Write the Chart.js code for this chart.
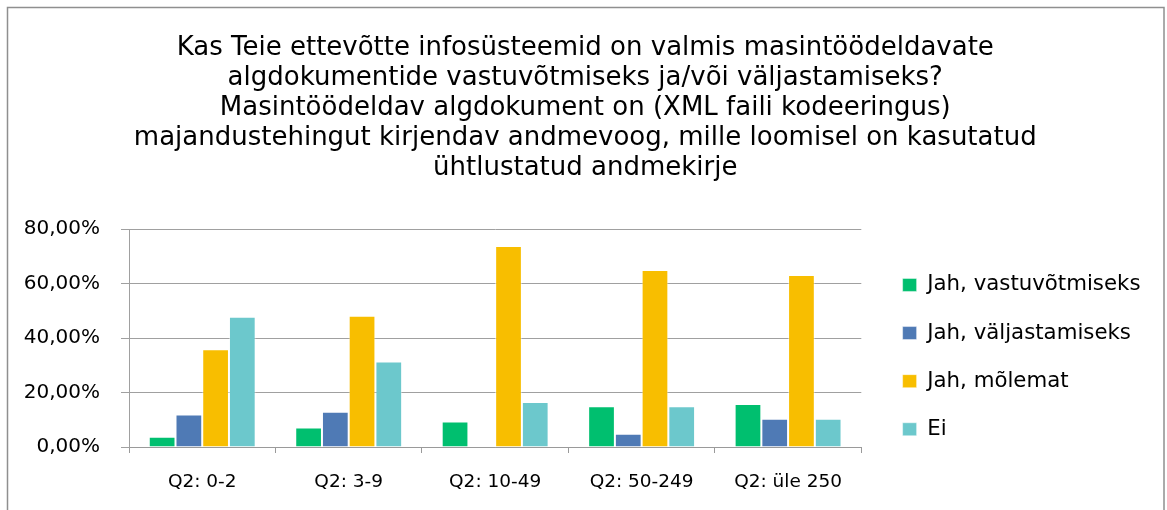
<!DOCTYPE html>
<html lang="et">
<head>
<meta charset="utf-8">
<title>Masintöödeldavad algdokumendid</title>
<script src="https://cdn.jsdelivr.net/npm/chart.js@4.4.1/dist/chart.umd.min.js"></script>
<style>
    html, body { margin: 0; padding: 0; background: #fff; }
    #wrap { width: 1167px; height: 510px; position: relative; }
</style>
</head>
<body>
<div id="wrap"><canvas id="grafik"></canvas></div>
<script>
// Andmed (loetud pildilt, protsentides)
const kategooriad = ['Q2: 0-2', 'Q2: 3-9', 'Q2: 10-49', 'Q2: 50-249', 'Q2: üle 250'];
const vastuvotmiseks = [3.8, 7.2, 9.4, 15.0, 15.8];
const valjastamiseks = [11.9, 12.9, 0, 4.9, 10.4];
const molemat = [35.9, 48.2, 73.8, 65.0, 63.1];
const ei = [47.8, 31.4, 16.5, 15.0, 10.4];
const seeriad = ['Jah, vastuvõtmiseks', 'Jah, väljastamiseks', 'Jah, mõlemat', 'Ei'];
const yTikid = [0, 20, 40, 60, 80];
const pealkiri = [
    'Kas Teie ettevõtte infosüsteemid on valmis masintöödeldavate',
    'algdokumentide vastuvõtmiseks ja/või väljastamiseks?',
    'Masintöödeldav algdokument on (XML faili kodeeringus)',
    'majandustehingut kirjendav andmevoog, mille loomisel on kasutatud',
    'ühtlustatud andmekirje'
];

const varvid = ['#00bf6f', '#4f7ab5', '#f8be00', '#6cc8cc'];
const font = 'DejaVu Sans';

// raam ümber graafiku
const raam = {
    id: 'raam',
    beforeDraw(chart) {
        const ctx = chart.ctx;
        ctx.save();
        ctx.fillStyle = '#fff';
        ctx.fillRect(0, 0, chart.width, chart.height);
        ctx.strokeStyle = '#8f8f8f';
        ctx.lineWidth = 1.5;
        ctx.strokeRect(7.5, 7.5, 1156.5, chart.height + 20);
        ctx.restore();
    }
};

new Chart(document.querySelector('#grafik'), {
    type: 'bar',
    data: {
        labels: kategooriad,
        datasets: [vastuvotmiseks, valjastamiseks, molemat, ei].map((d, i) => ({
            label: seeriad[i],
            data: d,
            backgroundColor: varvid[i],
            borderColor: 'rgba(255,255,255,0.45)',
            borderWidth: 1
        }))
    },
    options: {
        responsive: true,
        maintainAspectRatio: false,
        animation: false,
        layout: { padding: { left: 20, right: 16.5, top: 0, bottom: 0 } },
        datasets: { bar: { categoryPercentage: 0.73, barPercentage: 1 } },
        plugins: {
            tooltip: { enabled: false },
            title: {
                display: true,
                text: pealkiri,
                color: '#000',
                font: { family: font, size: 26, weight: 'normal', lineHeight: 1.154 },
                padding: { top: 33, bottom: 46 }
            },
            legend: {
                position: 'right',
                align: 'start',
                maxWidth: 276,
                // tühi pealkiri lükkab legendi alla
                title: { display: true, text: '', font: { size: 10, lineHeight: 1 }, padding: { top: 237.5, bottom: 0 } },
                labels: {
                    color: '#000',
                    font: { family: font, size: 21.3 },
                    boxWidth: 14,
                    boxHeight: 13,
                    padding: 26.8
                }
            }
        },
        scales: {
            x: {
                grid: { drawOnChartArea: false, drawTicks: true, tickLength: 6, color: '#9a9a9a' },
                border: { color: '#9a9a9a' },
                ticks: { color: '#000', font: { family: font, size: 18.5 }, padding: 18, maxRotation: 0 },
                afterFit: s => { s.height = 63; }
            },
            y: {
                min: 0,
                max: 80,
                afterBuildTicks: s => { s.ticks = yTikid.map(v => ({ value: v })); },
                grid: { color: '#a0a0a0', tickLength: 8 },
                border: { color: '#a0a0a0' },
                ticks: {
                    color: '#000',
                    font: { family: font, size: 20 },
                    padding: 21,
                    callback: v => v.toFixed(2).replace('.', ',') + '%'
                },
                afterFit: s => { s.width = 109; }
            },
            // tühi telg legendi ja joonise vahel
            vahe: {
                type: 'linear',
                position: 'right',
                grid: { display: false },
                border: { display: false },
                ticks: { display: false },
                afterFit: s => { s.width = 14.5; }
            }
        }
    },
    plugins: [raam]
});
</script>
</body>
</html>
